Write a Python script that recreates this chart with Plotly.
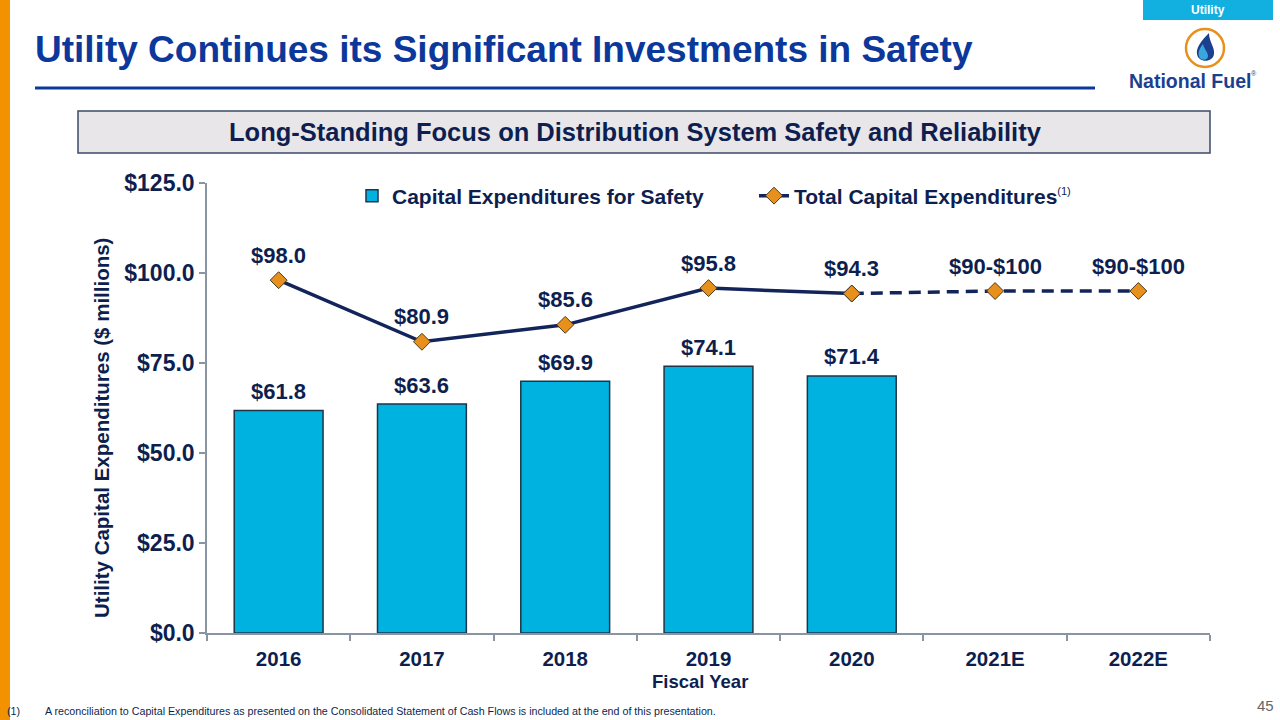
import plotly.graph_objects as go

W, H = 1280, 720

# ---------------- data ----------------
years = ["2016", "2017", "2018", "2019", "2020", "2021E", "2022E"]
safety_years = ["2016", "2017", "2018", "2019", "2020"]
safety_capex = [61.8, 63.6, 69.9, 74.1, 71.4]
total_years = ["2016", "2017", "2018", "2019", "2020"]
total_capex = [98.0, 80.9, 85.6, 95.8, 94.3]
proj_years = ["2020", "2021E", "2022E"]
proj_capex = [94.3, 95.0, 95.0]          # 2021E / 2022E plotted at midpoint of $90-$100
total_labels = ["$98.0", "$80.9", "$85.6", "$95.8", "$94.3", "$90-$100", "$90-$100"]
total_label_vals = [98.0, 80.9, 85.6, 95.8, 94.3, 95.0, 95.0]
safety_labels = ["$61.8", "$63.6", "$69.9", "$74.1", "$71.4"]
y_ticks = [0, 25, 50, 75, 100, 125]
y_tick_text = ["$0.0", "$25.0", "$50.0", "$75.0", "$100.0", "$125.0"]

# ---------------- style ----------------
FONT = "Arial, 'Liberation Sans', Helvetica, sans-serif"
NAVY = "#0e1f4f"
TITLE_BLUE = "#0b389a"
BAR_FILL = "#00b2e0"
BAR_EDGE = "#1c3548"
LINE = "#13245a"
MARKER = "#e8901c"
AXIS = "#8a95a3"


def px(x):
    return x / W


def py(y):
    return 1 - y / H


fig = go.Figure()

fig.add_trace(go.Bar(
    x=safety_years, y=safety_capex, name="<b>Capital Expenditures for Safety</b>",
    marker=dict(color=BAR_FILL, line=dict(color=BAR_EDGE, width=1.5)),
    width=0.62, showlegend=True,
))
fig.add_trace(go.Scatter(
    x=total_years, y=total_capex, mode="lines+markers",
    name="<b>Total Capital Expenditures</b><sup><span style='font-size:11px'>(1)</span></sup>",
    line=dict(color=LINE, width=3.5),
    marker=dict(symbol="diamond", size=13, color=MARKER, line=dict(color="#4a3a20", width=1)),
))
fig.add_trace(go.Scatter(
    x=proj_years, y=proj_capex, mode="lines+markers", showlegend=False,
    line=dict(color=LINE, width=3.5, dash="12px,7px"),
    marker=dict(symbol="diamond", size=13, color=MARKER, line=dict(color="#4a3a20", width=1)),
))

annotations = []
for yr, v, t in zip(years, total_label_vals, total_labels):
    annotations.append(dict(x=years.index(yr), y=v, xref="x", yref="y", text="<b>" + t + "</b>",
                            showarrow=False, yshift=25,
                            font=dict(family=FONT, size=22, color=NAVY)))
for yr, v, t in zip(safety_years, safety_capex, safety_labels):
    annotations.append(dict(x=years.index(yr), y=v, xref="x", yref="y", text="<b>" + t + "</b>",
                            showarrow=False, yshift=19,
                            font=dict(family=FONT, size=22, color=NAVY)))

# Title
annotations.append(dict(x=px(33), y=py(50), xref="paper", yref="paper", xanchor="left", yanchor="middle",
                        text="<b>Utility Continues its Significant Investments in Safety</b>", showarrow=False,
                        font=dict(family=FONT, size=37, color=TITLE_BLUE)))
# Subtitle
annotations.append(dict(x=px(635), y=py(132), xref="paper", yref="paper", xanchor="center", yanchor="middle",
                        text="<b>Long-Standing Focus on Distribution System Safety and Reliability</b>",
                        showarrow=False, font=dict(family=FONT, size=25.5, color=NAVY)))
# Utility tab
annotations.append(dict(x=px(1208), y=py(10), xref="paper", yref="paper", xanchor="center", yanchor="middle",
                        text="<b>Utility</b>", showarrow=False, font=dict(family=FONT, size=12, color="white")))
# Logo text
annotations.append(dict(x=px(1127), y=py(81), xref="paper", yref="paper", xanchor="left", yanchor="middle",
                        text="<b>National Fuel</b>", showarrow=False,
                        font=dict(family=FONT, size=19.5, color="#1d3f8f")))
annotations.append(dict(x=px(1249), y=py(74), xref="paper", yref="paper", xanchor="left", yanchor="middle",
                        text="®", showarrow=False,
                        font=dict(family=FONT, size=7, color="#1d3f8f")))
# Axis titles
annotations.append(dict(x=px(101), y=py(428), xref="paper", yref="paper", xanchor="center", yanchor="middle",
                        text="<b>Utility Capital Expenditures ($ millions)</b>", textangle=-90, showarrow=False,
                        font=dict(family=FONT, size=20.5, color=NAVY)))
annotations.append(dict(x=px(700), y=py(681), xref="paper", yref="paper", xanchor="center", yanchor="middle",
                        text="<b>Fiscal Year</b>", showarrow=False, font=dict(family=FONT, size=18.5, color=NAVY)))
# Footnote
annotations.append(dict(x=px(5), y=py(711), xref="paper", yref="paper", xanchor="left", yanchor="middle",
                        text="(1)", showarrow=False, font=dict(family=FONT, size=10.7, color=NAVY)))
annotations.append(dict(x=px(43), y=py(711), xref="paper", yref="paper", xanchor="left", yanchor="middle",
                        text="A reconciliation to Capital Expenditures as presented on the Consolidated Statement of Cash Flows is included at the end of this presentation.",
                        showarrow=False, font=dict(family=FONT, size=10.7, color=NAVY)))
# Page number
annotations.append(dict(x=px(1276), y=py(705), xref="paper", yref="paper", xanchor="right", yanchor="middle",
                        text="45", showarrow=False, font=dict(family=FONT, size=15, color="#666666")))

shapes = [
    # orange left bar
    dict(type="rect", xref="paper", yref="paper", x0=0, x1=px(10), y0=0, y1=1,
         fillcolor="#f39200", line=dict(width=0), layer="below"),
    # title underline
    dict(type="line", xref="paper", yref="paper", x0=px(35), x1=px(1095), y0=py(88), y1=py(88),
         line=dict(color=TITLE_BLUE, width=3)),
    # subtitle box
    dict(type="rect", xref="paper", yref="paper", x0=px(78), x1=px(1210), y0=py(111), y1=py(153),
         fillcolor="#e8e6e9", line=dict(color="#3b4a6b", width=1.5), layer="below"),
    # utility tab
    dict(type="rect", xref="paper", yref="paper", x0=px(1143), x1=px(1273), y0=py(0), y1=py(20),
         fillcolor="#12b0e0", line=dict(width=0), layer="below"),
    # logo circle
    dict(type="circle", xref="paper", yref="paper", x0=px(1186), x1=px(1224), y0=py(29), y1=py(67),
         fillcolor="white", line=dict(color="#e8901c", width=2.5)),
]


def path_px(cmds):
    out = []
    for c in cmds:
        if isinstance(c, str):
            out.append(c)
        else:
            out.append(f"{px(c[0]):.5f},{py(c[1]):.5f}")
    return " ".join(out)


flame_outer = path_px(["M", (1209, 33), "C", (1201, 41), (1196, 48), (1197, 54), "C", (1198, 63),
                       (1213, 63), (1214, 54), "C", (1215, 47), (1209, 42), (1209, 33), "Z"])
flame_inner = path_px(["M", (1203, 44), "C", (1199, 49), (1198, 53), (1199, 56), "C", (1200, 61),
                       (1208, 61), (1208, 56), "C", (1208, 52), (1204, 49), (1203, 44), "Z"])
shapes.append(dict(type="path", xref="paper", yref="paper", path=flame_outer,
                   fillcolor="#1d3f8f", line=dict(width=0)))
shapes.append(dict(type="path", xref="paper", yref="paper", path=flame_inner,
                   fillcolor="#3aa6de", line=dict(width=0)))

fig.update_layout(
    width=W, height=H,
    margin=dict(l=0, r=0, t=0, b=0, autoexpand=False),
    paper_bgcolor="white", plot_bgcolor="white",
    font=dict(family=FONT, color=NAVY),
    xaxis=dict(
        domain=[px(207), px(1210)],
        type="category", categoryorder="array", categoryarray=years,
        range=[-0.5, 6.5], automargin=False,
        showline=True, linecolor=AXIS, linewidth=1.5,
        ticks="outside", tickson="boundaries", ticklen=6, tickcolor=AXIS, tickwidth=1.5,
        tickfont=dict(family=FONT, size=20.5, color=NAVY),
        ticklabelstandoff=7,
        showgrid=False, zeroline=False,
        tickprefix="<b>", ticksuffix="</b>",
    ),
    yaxis=dict(
        domain=[1 - 633 / H, 1 - 183 / H],
        range=[0, 125], automargin=False,
        tickvals=y_ticks, ticktext=["<b>" + t + "</b>" for t in y_tick_text],
        showline=True, linecolor=AXIS, linewidth=1.5,
        ticks="outside", ticklen=6, tickcolor=AXIS, tickwidth=1.5,
        tickfont=dict(family=FONT, size=23, color=NAVY),
        showgrid=False, zeroline=False,
    ),
    legend=dict(
        orientation="h", x=px(352), xanchor="left", y=py(196), yanchor="middle",
        font=dict(family=FONT, size=21, color=NAVY),
        bgcolor="rgba(0,0,0,0)",
        traceorder="normal", entrywidth=357, entrywidthmode="pixels",
    ),
    annotations=annotations,
    shapes=shapes,
)

fig.write_html("out.html")
